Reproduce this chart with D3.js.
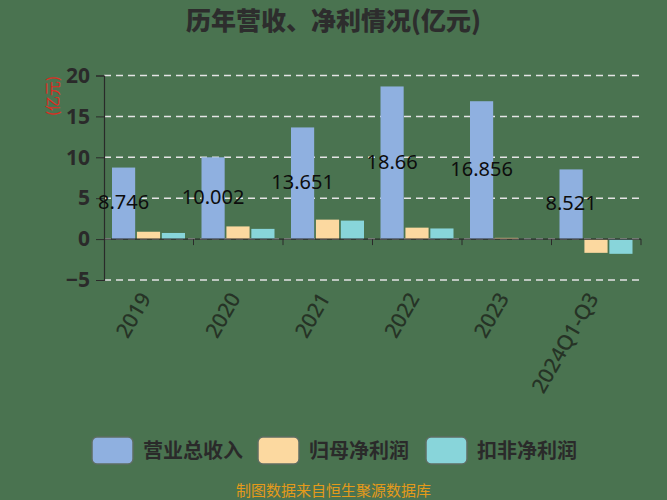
<!DOCTYPE html>
<html><head><meta charset="utf-8">
<script src="https://cdn.jsdelivr.net/npm/d3@7"></script>
<style>
html,body{margin:0;padding:0;background:#4a7350;}
svg{display:block;}
text{font-family:"Noto Sans CJK SC","Noto Sans",sans-serif;}
</style></head>
<body>
<svg id="chart" width="667" height="500"></svg>
<script>
const categories = ["2019","2020","2021","2022","2023","2024Q1-Q3"];
const seriesNames = ["营业总收入","归母净利润","扣非净利润"];
const revenue = [8.746, 10.002, 13.651, 18.66, 16.856, 8.521];
const netProfit = [0.9, 1.55, 2.38, 1.4, 0.15, -1.68];
const deductedProfit = [0.75, 1.25, 2.26, 1.3, 0.02, -1.8];
const revenueLabels = ["8.746","10.002","13.651","18.66","16.856","8.521"];
const yTicks = [-5, 0, 5, 10, 15, 20];
const colors = ["#8fb0e0","#fcd9a0","#88d5da"];
const seriesValues = [revenue, netProfit, deductedProfit];

(function(){
const svg = d3.select("#chart");
const W = 667, H = 500;
svg.append("rect").attr("width", W).attr("height", H).attr("fill", "#4a7350");

const pLeft = 104, pRight = 641, pTop = 75.5, pBottom = 280;
const x = d3.scaleBand().domain(categories).range([pLeft, pRight]).padding(0);
const x1 = d3.scaleBand().domain(seriesNames).range([8, 81]).paddingInner(0.07);
const y = d3.scaleLinear().domain([-5, 20]).range([pBottom, pTop]);

// title
svg.append("text").attr("x", W / 2).attr("y", 30).attr("text-anchor", "middle")
  .attr("font-size", 25).attr("font-weight", "900").attr("fill", "#2d2d2d")
  .text("历年营收、净利情况(亿元)");

// grid lines
svg.append("g").selectAll("line").data(yTicks).join("line")
  .attr("x1", pLeft).attr("x2", pRight)
  .attr("y1", d => y(d)).attr("y2", d => y(d))
  .attr("stroke", "#e4e4e4").attr("stroke-width", 1.5)
  .attr("stroke-dasharray", "7,5");

// y axis
const yAxis = d3.axisLeft(y).tickValues(yTicks).tickSize(8).tickPadding(6).tickFormat(d3.format("d"));
const yg = svg.append("g").attr("transform", `translate(${pLeft},0)`).call(yAxis);
yg.select(".domain").attr("stroke", "#2a2a2a").attr("stroke-width", 1.2);
yg.selectAll(".tick line").attr("stroke", "#2a2a2a");
yg.selectAll(".tick text").attr("font-size", 21).attr("font-weight", "bold").attr("fill", "#2a2a2a")
  .style("font-family", "'Noto Sans','Noto Sans CJK SC',sans-serif");

// y axis name
svg.append("text").attr("transform", "translate(58,96) rotate(-90)")
  .attr("text-anchor", "middle").attr("font-size", 15).attr("fill", "#e02a20")
  .text("(亿元)");

// bars
const groups = svg.append("g").selectAll("g").data(categories).join("g")
  .attr("transform", d => `translate(${x(d)},0)`);
seriesNames.forEach((s, si) => {
  groups.append("rect")
    .attr("x", x1(s)).attr("width", x1.bandwidth())
    .attr("y", (d, i) => y(Math.max(0, seriesValues[si][i])))
    .attr("height", (d, i) => Math.abs(y(seriesValues[si][i]) - y(0)))
    .attr("fill", colors[si]);
});

// x axis line at 0
const xAxisG = svg.append("g");
xAxisG.append("line").attr("x1", pLeft).attr("x2", pRight).attr("y1", y(0)).attr("y2", y(0))
  .attr("stroke", "#2a2a2a").attr("stroke-width", 1.2);
const bounds = categories.map(c => x(c)).concat([pRight]);
xAxisG.selectAll("line.tk").data(bounds.slice(1)).join("line").attr("class", "tk")
  .attr("x1", d => d).attr("x2", d => d).attr("y1", y(0)).attr("y2", y(0) + 6)
  .attr("stroke", "#2a2a2a");

// x labels
svg.append("g").selectAll("text").data(categories).join("text")
  .attr("transform", d => `translate(${x(d) + x.bandwidth() / 2 + 3},${pBottom + 18}) rotate(-60)`)
  .attr("text-anchor", "end").attr("font-size", 21).attr("font-weight", "500").attr("fill", "#263326")
  .style("font-family", "'Noto Sans','Noto Sans CJK SC',sans-serif")
  .text(d => d);

// value labels
svg.append("g").selectAll("text").data(categories).join("text")
  .attr("x", d => x(d) + x1(seriesNames[0]) + x1.bandwidth() / 2)
  .attr("y", (d, i) => y(revenue[i] / 2) + 6)
  .attr("text-anchor", "middle").attr("font-size", 20).attr("fill", "#0d0d0d")
  .style("font-family", "'Noto Sans','Noto Sans CJK SC',sans-serif")
  .text((d, i) => revenueLabels[i]);

// legend
const legendX = [92, 258, 426];
const lg = svg.append("g").selectAll("g").data(seriesNames).join("g")
  .attr("transform", (d, i) => `translate(${legendX[i]},437)`);
lg.append("rect").attr("width", 41).attr("height", 27).attr("rx", 5)
  .attr("fill", (d, i) => colors[i]).attr("stroke", "#5d6e62").attr("stroke-width", 1.5);
lg.append("text").attr("x", 51).attr("y", 21).attr("font-size", 20).attr("font-weight", "bold").attr("fill", "#2a2a2a")
  .text(d => d);

// footer
svg.append("text").attr("x", W / 2).attr("y", 496).attr("text-anchor", "middle")
  .attr("font-size", 15).attr("fill", "#e59a1a").text("制图数据来自恒生聚源数据库");
})();
</script>
</body></html>
